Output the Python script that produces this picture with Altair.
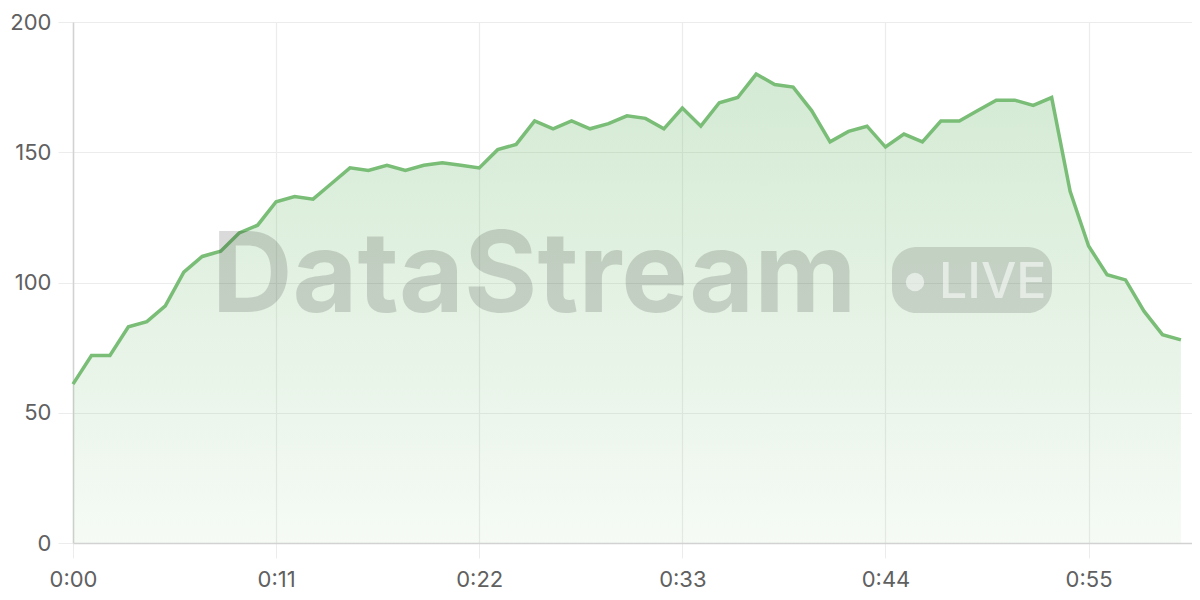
import altair as alt
import pandas as pd

minutes = list(range(61))
values = [61, 72, 72, 83, 85, 91, 104, 110, 112, 119,
          122, 131, 133, 132, 138, 144, 143, 145, 143, 145,
          146, 145, 144, 151, 153, 162, 159, 162, 159, 161,
          164, 163, 159, 167, 160, 169, 171, 180, 176, 175,
          166, 154, 158, 160, 152, 157, 154, 162, 162, 166,
          170, 170, 168, 171, 135, 114, 103, 101, 89, 80,
          78]
x_ticks = [0, 11, 22, 33, 44, 55]
y_ticks = [0, 50, 100, 150, 200]

df = pd.DataFrame({"t": minutes, "v": values})
one = pd.DataFrame({"k": [0]})

LINE = "#79bd77"

x_enc = alt.X("t:Q", scale=alt.Scale(domain=[0, 60.6], nice=False, zero=False),
              axis=alt.Axis(values=x_ticks, title=None, labelFlush=False,
                            labelExpr="'0:' + (datum.value < 10 ? '0' : '') + datum.value"))
y_enc = alt.Y("v:Q", scale=alt.Scale(domain=[0, 200], nice=False),
              axis=alt.Axis(values=y_ticks, title=None, labelFlush=False))

area = alt.Chart(df).mark_area(
    color=alt.Gradient(
        gradient="linear", x1=1, x2=1, y1=0, y2=1,
        stops=[alt.GradientStop(offset=0, color="rgba(120,190,120,0.32)"),
               alt.GradientStop(offset=1, color="rgba(120,190,120,0.07)")]),
).encode(x=x_enc, y=y_enc)

line = alt.Chart(df).mark_line(color=LINE, strokeWidth=3.5).encode(x="t:Q", y="v:Q")

wm_text = alt.Chart(one).mark_text(
    text="DataStream", font="Inter", fontWeight=700, fontSize=112,
    align="center", baseline="alphabetic", color="#000000", opacity=0.14,
).encode(x=alt.value(461), y=alt.value(290))

pill = alt.Chart(one).mark_rect(
    color="#000000", opacity=0.13, cornerRadius=24,
).encode(x=alt.value(819), x2=alt.value(979), y=alt.value(225), y2=alt.value(291))

dot = alt.Chart(one).mark_point(
    shape="circle", filled=True, color="#ffffff", opacity=0.55, size=340,
).encode(x=alt.value(842), y=alt.value(260))

live = alt.Chart(one).mark_text(
    text="LIVE", font="Inter", fontWeight=500, fontSize=50,
    align="left", baseline="alphabetic", color="#ffffff", opacity=0.55,
).encode(x=alt.value(866), y=alt.value(276))

chart = alt.layer(area, line, wm_text, pill, dot, live).properties(
    width=1119, height=521,
    autosize=alt.AutoSizeParams(type="none"),
    padding={"left": 65, "top": 14, "right": 0, "bottom": 50},
).configure_view(stroke=None).configure_axis(
    labelFont="Inter", labelFontSize=22, labelColor="#606060",
    gridColor="#ececec", gridWidth=1.2, tickColor="#ececec", tickSize=15,
    domainColor="#d2d2d2", domainWidth=1.5, labelPadding=7,
).configure_axisX(labelPadding=11)

chart.save("out.html", embed_options={"renderer": "svg", "actions": False})
